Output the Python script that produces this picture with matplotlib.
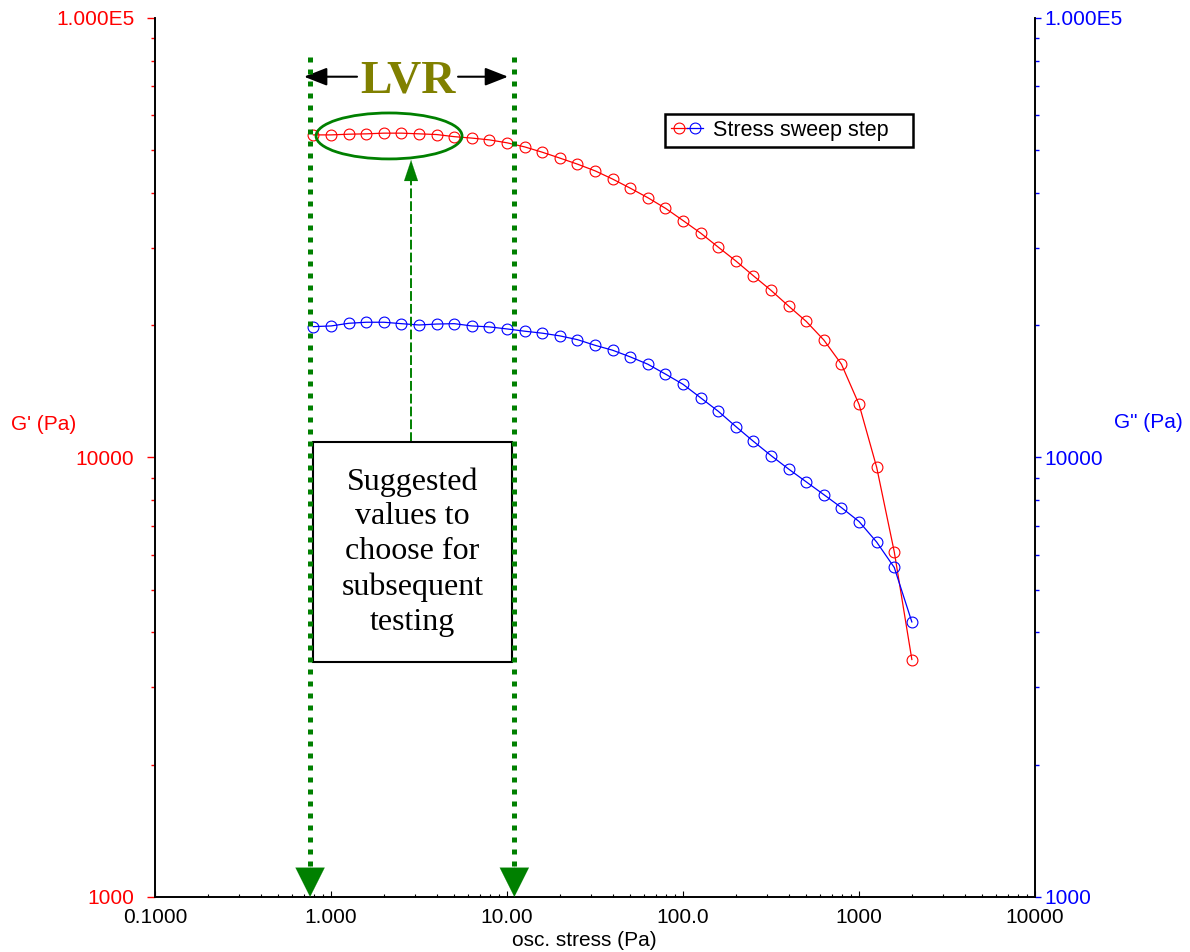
import numpy as np
import matplotlib
matplotlib.use("Agg")
import matplotlib.pyplot as plt
from matplotlib.patches import Ellipse, Rectangle
from matplotlib.legend_handler import HandlerTuple
from matplotlib.ticker import FixedLocator, LogLocator, NullFormatter

plt.rcParams["font.family"] = ["Liberation Sans", "DejaVu Sans"]

# stress sweep data
stress = [0.794, 1.000, 1.259, 1.585, 1.995, 2.512, 3.162, 3.981, 5.012, 6.310,
          7.943, 10.00, 12.59, 15.85, 19.95, 25.12, 31.62, 39.81, 50.12, 63.10,
          79.43, 100.0, 125.9, 158.5, 199.5, 251.2, 316.2, 398.1, 501.2, 631.0,
          794.3, 1000, 1259, 1585, 1995]
g_prime = [54200, 54200, 54400, 54500, 54700, 54700, 54500, 54300, 53700, 53300,
           52800, 52000, 50900, 49500, 48000, 46500, 44900, 43000, 41000, 39000,
           36900, 34600, 32400, 30100, 28000, 25900, 24000, 22100, 20400, 18500,
           16300, 13200, 9500, 6100, 3470]
g_double = [19850, 19920, 20200, 20310, 20310, 20160, 20020, 20120, 20160, 19920,
            19820, 19610, 19380, 19180, 18910, 18540, 18000, 17540, 16940, 16300,
            15480, 14670, 13670, 12740, 11760, 10880, 10100, 9410, 8800, 8230,
            7690, 7150, 6420, 5620, 4225]

x_ticks = [0.1, 1, 10, 100, 1000, 10000]
x_ticklabels = ["0.1000", "1.000", "10.00", "100.0", "1000", "10000"]
y_ticks = [1000, 10000, 100000]
y_ticklabels = ["1000", "10000", "1.000E5"]

lvr_bounds = [0.76, 11.0]  # edges of the linear viscoelastic region
series_name = "Stress sweep step"
note = "Suggested\nvalues to\nchoose for\nsubsequent\ntesting"

green = "#008000"

fig = plt.figure(figsize=(11.9, 9.52), dpi=100)
ax = fig.add_axes([0.1303, 0.0578, 0.7395, 0.9233])
ax2 = ax.twinx()

for a in (ax, ax2):
    a.set_xscale("log")
    a.set_yscale("log")
    a.set_xlim(0.1, 10000)
    a.set_ylim(1000, 100000)

l1, = ax.plot(stress, g_prime, "-o", color="red", lw=0.9, ms=7.8, mfc="none",
              mew=0.8, zorder=3)
l2, = ax2.plot(stress, g_double, "-o", color="blue", lw=0.9, ms=7.8, mfc="none",
               mew=0.8, zorder=3)

# ticks / labels
ax.xaxis.set_major_locator(FixedLocator(x_ticks))
ax.set_xticklabels(x_ticklabels)
ax.xaxis.set_minor_locator(LogLocator(base=10, subs=np.arange(2, 10)))
ax.xaxis.set_minor_formatter(NullFormatter())
ax.tick_params(axis="x", which="major", direction="in", length=4, width=0.8, pad=8,
               labelsize=15, colors="black")
ax.tick_params(axis="x", which="minor", direction="in", length=2.5, width=0.8)

ax.yaxis.set_major_locator(FixedLocator(y_ticks))
ax.set_yticklabels(y_ticklabels)
ax.yaxis.set_minor_locator(LogLocator(base=10, subs=np.arange(2, 10)))
ax.yaxis.set_minor_formatter(NullFormatter())
ax.tick_params(axis="y", which="major", direction="out", length=6, width=1, pad=9,
               labelsize=15, color="red", labelcolor="red")
ax.tick_params(axis="y", which="minor", direction="out", length=3, width=1, color="red")

ax2.yaxis.set_major_locator(FixedLocator(y_ticks))
ax2.set_yticklabels(y_ticklabels)
ax2.yaxis.set_minor_locator(LogLocator(base=10, subs=np.arange(2, 10)))
ax2.yaxis.set_minor_formatter(NullFormatter())
ax2.tick_params(axis="y", which="major", direction="out", length=4.5, width=1, pad=2.5,
                labelsize=15, color="blue", labelcolor="blue")
ax2.tick_params(axis="y", which="minor", direction="out", length=3, width=1, color="blue")

for a in (ax, ax2):
    a.spines["top"].set_visible(False)
    for s in ("left", "right", "bottom"):
        a.spines[s].set_linewidth(1.2)
        a.spines[s].set_color("black")

fig.text(0.4908, 1 - 941 / 952, "osc. stress (Pa)", ha="center", va="center", fontsize=15)
fig.text(0.0366, 0.5536, "G' (Pa)", ha="center", va="center", fontsize=15, color="red")
fig.text(0.9651, 0.5557, 'G" (Pa)', ha="center", va="center", fontsize=15, color="blue")

# LVR bounds: thick dotted green lines with arrowheads at the axis
trans = ax.get_xaxis_transform()
for xb in lvr_bounds:
    ax2.plot([xb, xb], [0.9556, 0.034], transform=trans, color=green, lw=3.6,
             ls=(0, (1, 1.4)), solid_capstyle="butt", dash_capstyle="butt", zorder=6)
    ax2.annotate("", xy=(xb, 0.0), xytext=(xb, 0.04), xycoords=trans, textcoords=trans,
                 arrowprops=dict(arrowstyle="-|>,head_length=1.5,head_width=0.75",
                                 mutation_scale=14, color=green, lw=0.1,
                                 shrinkA=0, shrinkB=0), zorder=6)

# LVR label with arrows
ax2.text(0.2869, 0.9147, "LVR", transform=ax.transAxes, ha="center", va="baseline",
         fontsize=34, fontweight="bold", color="#808000", family="Liberation Serif")
arrow_kw = dict(arrowstyle="-|>,head_length=1.4,head_width=0.55", mutation_scale=10,
                color="black", lw=1.5, shrinkA=0, shrinkB=0)
ax2.annotate("", xy=(0.1693, 0.9332), xytext=(0.2295, 0.9332), xycoords="axes fraction",
             arrowprops=arrow_kw)
ax2.annotate("", xy=(0.4011, 0.9332), xytext=(0.3443, 0.9332), xycoords="axes fraction",
             arrowprops=arrow_kw)

# ellipse around plateau
ax2.add_patch(Ellipse((0.2659, 0.8658), 0.1659, 0.0523, transform=ax.transAxes,
                      fill=False, ec=green, lw=2, zorder=5))

# dashed pointer from the note box up to the ellipse
ax2.plot([0.2909, 0.2909], [0.5176, 0.8157], transform=ax.transAxes, color=green,
         lw=1.4, ls=(0, (5, 1.6)), zorder=4)
ax2.annotate("", xy=(0.2909, 0.8385), xytext=(0.2909, 0.8150), xycoords="axes fraction",
             arrowprops=dict(arrowstyle="-|>,head_length=1.5,head_width=0.5",
                             mutation_scale=10, color=green, lw=0.1,
                             shrinkA=0, shrinkB=0), zorder=4)

# note box
ax2.add_patch(Rectangle((0.1795, 0.2674), 0.2262, 0.2502, transform=ax.transAxes,
                        fc="white", ec="black", lw=1.5, zorder=5))
ax2.text(0.2926, 0.3925, note, transform=ax.transAxes, ha="center", va="center",
         fontsize=23, linespacing=1.27, family="Liberation Serif", zorder=7)

leg = ax2.legend([(l1, l2)], [series_name + "   "], handler_map={tuple: HandlerTuple(ndivide=None, pad=0)},
                 loc="upper left", bbox_to_anchor=(0.5588, 0.8803), bbox_transform=fig.transFigure,
                 borderaxespad=0, fontsize=15.5, fancybox=False, framealpha=1,
                 handlelength=1.5, handletextpad=0.45, borderpad=0.28)
leg.get_frame().set_edgecolor("black")
leg.get_frame().set_linewidth(1.8)
leg.set_zorder(10)

fig.savefig("out.png", dpi=100)
